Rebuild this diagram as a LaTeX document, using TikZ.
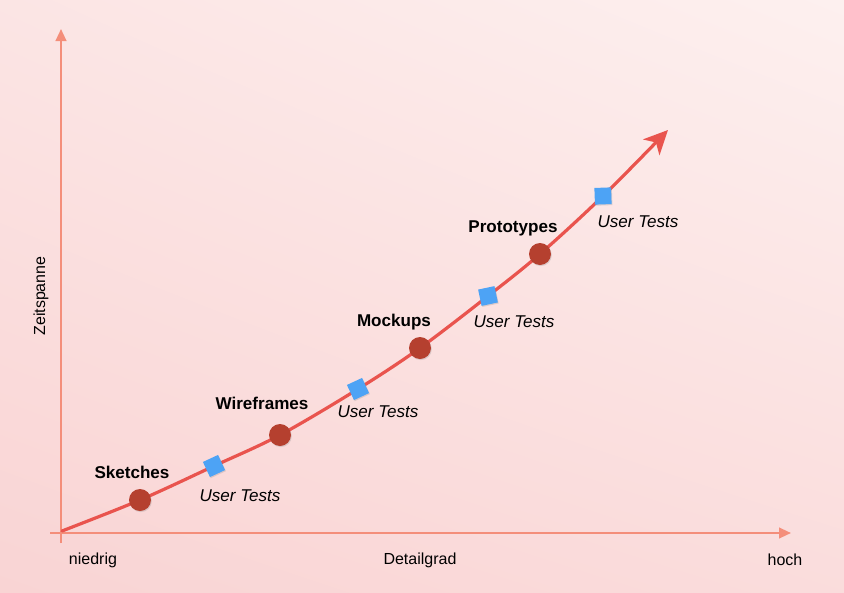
\documentclass[tikz,border=0pt]{standalone}
\usepackage{fontspec}
\setmainfont{Liberation Sans}
\usetikzlibrary{arrows.meta,shadows,shadings}

\definecolor{bgLight}{RGB}{253,240,239}
\definecolor{bgDeep}{RGB}{249,212,212}
\definecolor{axisCol}{RGB}{244,142,122}
\definecolor{curveCol}{RGB}{233,84,78}
\definecolor{stageCol}{RGB}{181,64,47}
\definecolor{testCol}{RGB}{77,163,245}

\tikzset{every picture/.style={line width=0.75pt}}
\tikzset{
	axisline/.style={draw=axisCol, line width=1.6pt, -{Triangle[length=9pt,width=8pt]}},
	stage/.style={circle, fill=stageCol, minimum size=16.5pt, inner sep=0pt, drop shadow={opacity=0.25, shadow xshift=0.6pt, shadow yshift=-0.8pt}},
	usertest/.style={rectangle, fill=testCol, minimum size=12.5pt, inner sep=0pt, drop shadow={opacity=0.25, shadow xshift=0.6pt, shadow yshift=-0.8pt}},
	stagelabel/.style={font=\bfseries\fontsize{12.8}{15}\selectfont, inner sep=0.75pt},
	testlabel/.style={font=\itshape\fontsize{12.8}{15}\selectfont, inner sep=0.75pt},
	axislabel/.style={font=\fontsize{12}{14}\selectfont, inner sep=0.75pt}
}

\begin{document}
\begin{tikzpicture}[x=0.75pt,y=0.75pt,yscale=-1,xscale=1]
	% background
	\shade [lower left=bgDeep, upper left=bgLight!60!bgDeep, upper right=bgLight, lower right=bgDeep!70!bgLight] (0,0) rectangle (844,593);
	\useasboundingbox (0,0) rectangle (844,593);
	
	% axes
	\coordinate (yfoot) at (61,543);
	\coordinate (ytop) at (61,29);
	\coordinate (xfoot) at (50,533);
	\coordinate (xend) at (791,533);
	\draw [axisline] (yfoot) -- (ytop);
	\draw [axisline] (xfoot) -- (xend);
	
	% curve points
	\coordinate (c0) at (62,531);
	\coordinate (p1) at (140,500);
	\coordinate (p2) at (214,466);
	\coordinate (p3) at (280,435);
	\coordinate (p4) at (358,389);
	\coordinate (p5) at (420,348);
	\coordinate (p6) at (488,296);
	\coordinate (p7) at (540,254);
	\coordinate (p8) at (603,196);
	\coordinate (tip) at (668,130);
	
	% red curve
	\draw [curveCol, line width=2.4pt, line cap=round, -{Stealth[length=18pt,width=17pt,inset=5pt]}]
		plot [smooth, tension=0.55] coordinates {(c0) (p1) (p2) (p3) (p4) (p5) (p6) (p7) (p8) (tip)};
	
	% stages and tests
	\node [stage] (sketch) at (p1) {};
	\node [usertest, rotate=25] (test1) at (p2) {};
	\node [stage] (wire) at (p3) {};
	\node [usertest, rotate=25] (test2) at (p4) {};
	\node [stage] (mock) at (p5) {};
	\node [usertest, rotate=12] (test3) at (p6) {};
	\node [stage] (proto) at (p7) {};
	\node [usertest, rotate=2] (test4) at (p8) {};
	
	% labels
	\node [stagelabel] (lsketch) at (132,472) {Sketches};
	\node [stagelabel] (lwire) at (262,403) {Wireframes};
	\node [stagelabel] (lmock) at (394,322) {Mockups};
	\node [stagelabel] (lproto) at (513,228) {Prototypes};
	\node [testlabel] (ltest1) at (240,496) {User Tests};
	\node [testlabel] (ltest2) at (378,412) {User Tests};
	\node [testlabel] (ltest3) at (514,322) {User Tests};
	\node [testlabel] (ltest4) at (638,222) {User Tests};
	
	\node [axislabel] (lniedrig) at (93,560) {niedrig};
	\node [axislabel] (ldetail) at (420,560) {Detailgrad};
	\node [axislabel] (lhoch) at (785,560) {hoch};
	\node [axislabel, rotate=90] (lzeit) at (41,296) {Zeitspanne};
\end{tikzpicture}
\end{document}
